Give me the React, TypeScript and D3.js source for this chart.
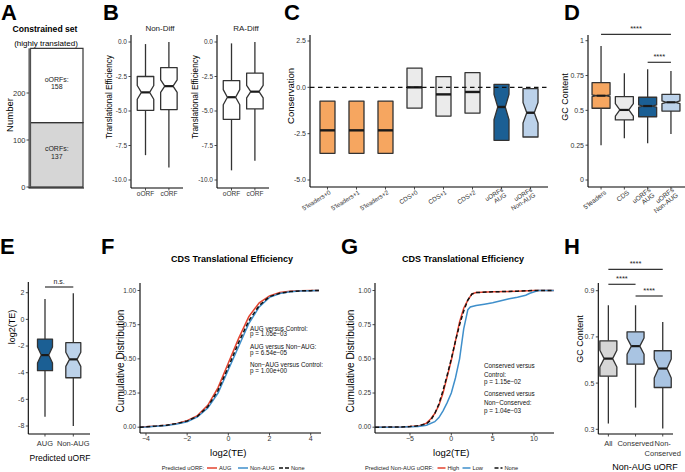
import React from "react";
import * as d3 from "d3";

const FONT = "'Liberation Sans', Arial, Helvetica, sans-serif";

// ---------------- DATA ----------------
// Panel A
const aSegments = ["cORFs", "oORFs"];
const aCounts = [137, 158];
const aTicks = [0, 100, 200];

// Panel B
const bPanels = ["Non-Diff", "RA-Diff"];
const bCategories = ["oORF", "cORF"];
const bNonDiff = [
  { lo: -8.2, q1: -4.95, med: -3.65, q3: -2.5, hi: -0.15, notch: 0.5 },
  { lo: -9.1, q1: -4.9, med: -3.2, q3: -1.85, hi: 0, notch: 0.45 },
];
const bRADiff = [
  { lo: -9.3, q1: -5.6, med: -4.0, q3: -2.8, hi: -0.1, notch: 0.55 },
  { lo: -8.6, q1: -4.85, med: -3.6, q3: -2.25, hi: 0, notch: 0.45 },
];
const bTicks = [0, -2.5, -5, -7.5, -10];
const bTickLabels = ["0.0", "-2.5", "-5.0", "-7.5", "-10.0"];

// Panel C
const cCategories = ["5'leaders+0", "5'leaders+1", "5'leaders+2", "CDS+0", "CDS+1", "CDS+2", "uORFs\nAUG", "uORFs\nNon-AUG"];
const cStats = [
  { q1: -3.56, med: -2.32, q3: -0.74, notch: 0 },
  { q1: -3.56, med: -2.32, q3: -0.74, notch: 0 },
  { q1: -3.56, med: -2.32, q3: -0.74, notch: 0 },
  { q1: -1.12, med: 0.0, q3: 1.04, notch: 0 },
  { q1: -1.55, med: -0.38, q3: 0.58, notch: 0 },
  { q1: -1.39, med: -0.25, q3: 0.79, notch: 0 },
  { q1: -2.86, med: -1.06, q3: 0.16, notch: 0.68 },
  { q1: -2.68, med: -1.37, q3: -0.07, notch: 0.55 },
];
const cTicks = [2.5, 0, -2.5, -5];
const cTickLabels = ["2.5", "0.0", "-2.5", "-5.0"];

// Panel D
const dCategories = ["5'leaders", "CDS", "uORFs\nAUG", "uORFs\nNon-AUG"];
const dStats = [
  { lo: 0.25, q1: 0.515, med: 0.605, q3: 0.699, hi: 0.962, notch: 0.006 },
  { lo: 0.3, q1: 0.431, med: 0.503, q3: 0.598, hi: 0.766, notch: 0.045 },
  { lo: 0.263, q1: 0.454, med: 0.531, q3: 0.594, hi: 0.795, notch: 0.008 },
  { lo: 0.33, q1: 0.495, med: 0.558, q3: 0.615, hi: 0.782, notch: 0.01 },
];
const dTicks = [1, 0.75, 0.5, 0.25, 0];
const dTickLabels = ["1", "0.75", "0.5", "0.25", "0"];
const dSignif = [
  { from: 0, to: 3, label: "****" },
  { from: 2, to: 3, label: "****" },
];

// Panel E
const eCategories = ["AUG", "Non-AUG"];
const eStats = [
  { lo: -7.3, q1: -3.85, med: -2.68, q3: -1.48, hi: 1.52, notch: 0.6 },
  { lo: -8.0, q1: -4.38, med: -3.0, q3: -1.75, hi: 1.95, notch: 0.53 },
];
const eTicks = [2, 0, -2, -4, -6, -8];
const eSignif = [{ from: 0, to: 1, label: "n.s." }];

// Panel F (cumulative distributions)
const fX = [-4.3, -4, -3.5, -3, -2.5, -2, -1.5, -1, -0.5, 0, 0.5, 1, 1.5, 2, 2.5, 3, 3.5, 4, 4.4];
const fAUG = [0, 0.003, 0.008, 0.015, 0.028, 0.047, 0.085, 0.16, 0.29, 0.47, 0.65, 0.81, 0.91, 0.96, 0.985, 0.994, 0.998, 1, 1];
const fNonAUG = [0, 0.002, 0.007, 0.013, 0.024, 0.04, 0.075, 0.14, 0.25, 0.42, 0.59, 0.76, 0.88, 0.95, 0.978, 0.99, 0.996, 0.999, 1];
const fNone = [0, 0.003, 0.008, 0.015, 0.027, 0.045, 0.08, 0.15, 0.27, 0.44, 0.62, 0.78, 0.89, 0.955, 0.98, 0.992, 0.997, 0.999, 1];
const fXTicks = [-4, -2, 0, 2, 4];
const fTests = ["AUG versus Control:", "p = 1.05e\u221203", "AUG versus Non\u2212AUG:", "p = 6.54e\u221205", "Non\u2212AUG versus Control:", "p = 1.00e+00"];
const fLegendTitle = "Predicted uORF:";
const fLegend = ["AUG", "Non-AUG", "None"];

// Panel G
const gHighX = [-9.2, -6, -4, -3, -2.5, -2, -1.5, -1, -0.5, 0, 0.5, 1, 1.5, 2, 2.5, 3, 5, 8, 10, 12.4];
const gHighY = [0, 0.001, 0.008, 0.03, 0.06, 0.1, 0.16, 0.25, 0.37, 0.49, 0.63, 0.77, 0.87, 0.93, 0.975, 0.985, 0.99, 0.995, 1, 1];
const gLowX = [-9.2, -6, -4, -3, -2, -1.5, -1, -0.5, 0, 0.5, 1, 1.5, 2, 2.3, 3, 4, 5, 6, 7, 8, 9, 9.5, 10.5, 12.4];
const gLowY = [0, 0.001, 0.006, 0.015, 0.04, 0.07, 0.12, 0.18, 0.25, 0.36, 0.5, 0.72, 0.86, 0.88, 0.89, 0.9, 0.91, 0.925, 0.94, 0.95, 0.965, 0.98, 1, 1];
const gNoneX = [-9.2, -6, -5, -4, -3, -2.5, -2, -1.5, -1, -0.5, 0, 0.5, 1, 1.5, 2, 2.5, 3, 5, 8, 10, 12.4];
const gNoneY = [0, 0.002, 0.005, 0.01, 0.025, 0.05, 0.1, 0.17, 0.27, 0.38, 0.5, 0.63, 0.75, 0.85, 0.93, 0.975, 0.985, 0.99, 0.995, 1, 1];
const gXTicks = [-5, 0, 5, 10];
const gTests = ["Conserved versus", "Control:", "p = 1.15e\u221202", "Conserved versus", "Non\u2212Conserved:", "p = 1.04e\u221203"];
const gLegendTitle = "Predicted Non-AUG uORF:";
const gLegend = ["High", "Low", "None"];

const cdfYTicks = [0, 0.25, 0.5, 0.75, 1];
const cdfYLabels = ["0.00", "0.25", "0.50", "0.75", "1.00"];

// Panel H
const hCategories = ["All", "Conserved", "Non-\nConserved"];
const hStats = [
  { lo: 0.325, q1: 0.53, med: 0.606, q3: 0.683, hi: 0.837, notch: 0.036 },
  { lo: 0.394, q1: 0.582, med: 0.66, q3: 0.722, hi: 0.837, notch: 0.035 },
  { lo: 0.303, q1: 0.481, med: 0.563, q3: 0.64, hi: 0.765, notch: 0.041 },
];
const hTicks = [0.9, 0.7, 0.5, 0.3];
const hSignif = [
  { from: 0, to: 2, label: "****" },
  { from: 0, to: 1, label: "****" },
  { from: 1, to: 2, label: "****" },
];

// ---------------- STYLES ----------------
const ORANGE = "#F6A660";
const LGREY = "#EBEBEB";
const MGREY = "#D6D6D6";
const DBLUE = "#1B5F94";
const LBLUE = "#BCD2EA";
const HBLUE = "#A9C4E2";
const RED = "#E3432F";
const BLUE = "#3F8FCB";
const cFills = [ORANGE, ORANGE, ORANGE, LGREY, LGREY, LGREY, DBLUE, LBLUE];
const dFills = [ORANGE, LGREY, DBLUE, LBLUE];
const eFills = [DBLUE, LBLUE];
const hFills = [MGREY, HBLUE, HBLUE];
const TICKC = "#333";

type Stat = { lo?: number; q1: number; med: number; q3: number; hi?: number; notch: number };

function Box({ cx, w, y, s, fill, medW = 2.2 }: { cx: number; w: number; y: (v: number) => number; s: Stat; fill: string; medW?: number }) {
  const x0 = cx - w / 2, x1 = cx + w / 2;
  const inset = s.notch > 0 ? w / 4 : 0;
  const nHi = Math.min(s.med + s.notch, s.q3);
  const nLo = Math.max(s.med - s.notch, s.q1);
  const d = s.notch > 0
    ? `M${x0},${y(s.q3)}H${x1}V${y(nHi)}L${x1 - inset},${y(s.med)}L${x1},${y(nLo)}V${y(s.q1)}H${x0}V${y(nLo)}L${x0 + inset},${y(s.med)}L${x0},${y(nHi)}Z`
    : `M${x0},${y(s.q3)}H${x1}V${y(s.q1)}H${x0}Z`;
  return (
    <g>
      {s.hi !== undefined && <line x1={cx} x2={cx} y1={y(s.hi)} y2={y(s.q3)} stroke="#333" strokeWidth={1.3} />}
      {s.lo !== undefined && <line x1={cx} x2={cx} y1={y(s.q1)} y2={y(s.lo)} stroke="#333" strokeWidth={1.3} />}
      <path d={d} fill={fill} stroke="#333" strokeWidth={1.3} strokeLinejoin="round" />
      <line x1={x0 + inset} x2={x1 - inset} y1={y(s.med)} y2={y(s.med)} stroke="#1a1a1a" strokeWidth={medW} />
    </g>
  );
}

function YAxis({ x, y, ticks, labels, top, bottom, fs = 7 }: any) {
  return (
    <g>
      <line x1={x} x2={x} y1={top} y2={bottom} stroke="#000" strokeWidth={1.1} />
      {ticks.map((t: number, i: number) => (
        <g key={i}>
          <line x1={x - 2.5} x2={x} y1={y(t)} y2={y(t)} stroke={TICKC} strokeWidth={0.9} />
          <text x={x - 4} y={y(t)} dy="0.35em" textAnchor="end" fontSize={fs} fill={TICKC}>{labels[i]}</text>
        </g>
      ))}
    </g>
  );
}

function XAxisLine({ y, left, right, xs }: any) {
  return (
    <g>
      <line x1={left} x2={right} y1={y} y2={y} stroke="#000" strokeWidth={1.1} />
      {xs.map((x: number, i: number) => (
        <line key={i} x1={x} x2={x} y1={y} y2={y + 2.5} stroke={TICKC} strokeWidth={0.9} />
      ))}
    </g>
  );
}

function RotLabel({ x, y, text, fs, angle = -30 }: any) {
  const lines = text.split("\n");
  const first = 0.85 - 0.5 * (lines.length - 1);
  return (
    <text transform={`translate(${x},${y}) rotate(${angle})`} textAnchor="end" fontSize={fs} fill={TICKC}>
      {lines.map((l: string, i: number) => (
        <tspan key={i} x={0} dy={i === 0 ? `${first}em` : "1em"}>{l}</tspan>
      ))}
    </text>
  );
}

function VLabel({ x, y, text, fs }: any) {
  return (
    <text transform={`translate(${x},${y}) rotate(-90)`} textAnchor="middle" dy="0.35em" fontSize={fs} fill="#000">{text}</text>
  );
}

function Letter({ x, y, t }: any) {
  return <text x={x} y={y} fontSize={22} fontWeight="bold" fill="#000">{t}</text>;
}

function PanelA() {
  const y = d3.scaleLinear().domain([0, 300]).range([187, 187 - 300 * 0.47]);
  const x = d3.scaleBand().domain(["set"]).range([30.5, 83]).padding(0);
  let acc = 0;
  const segs = aCounts.map((c, i) => {
    const y0 = acc;
    acc += c;
    return { name: aSegments[i], c, y0, y1: acc };
  });
  const fills = [MGREY, "#FFFFFF"];
  return (
    <g>
      <Letter x={1} y={20} t="A" />
      <text x={45} y={32} textAnchor="middle" fontSize={8.6} fontWeight="bold">Constrained set</text>
      <text x={46} y={46} textAnchor="middle" fontSize={8}>(highly translated)</text>
      {segs.map((s, i) => {
        const mid = (y(s.y0) + y(s.y1)) / 2;
        const cx = (x("set") as number) + x.bandwidth() / 2;
        return (
          <g key={i}>
            <rect x={x("set")} width={x.bandwidth()} y={y(s.y1)} height={y(s.y0) - y(s.y1)} fill={fills[i]} stroke="#333" strokeWidth={1.2} />
            <text x={cx} y={mid - 3.5} textAnchor="middle" fontSize={7} fill="#222">{s.name + ":"}</text>
            <text x={cx} y={mid + 3.8} textAnchor="middle" fontSize={7} fill="#222">{s.c}</text>
          </g>
        );
      })}
      <line x1={29.5} x2={29.5} y1={y(295)} y2={188} stroke="#666" strokeWidth={2.2} />
      {aTicks.map((t, i) => (
        <g key={i}>
          <line x1={26.5} x2={29} y1={y(t)} y2={y(t)} stroke={TICKC} strokeWidth={0.9} />
          <text x={25.5} y={y(t)} dy="0.35em" textAnchor="end" fontSize={7.5} fill={TICKC}>{t}</text>
        </g>
      ))}
      <line x1={28.5} x2={84} y1={188} y2={188} stroke="#000" strokeWidth={1.1} />
      <VLabel x={10} y={115} text="Number" fs={9.5} />
    </g>
  );
}

function PanelB() {
  const y = d3.scaleLinear().domain([-10, 0]).range([180, 42]);
  const axes = [131, 217];
  const data = [bNonDiff, bRADiff];
  return (
    <g>
      <Letter x={103} y={20} t="B" />
      {bPanels.map((p, k) => {
        const ax = axes[k];
        const x = d3.scalePoint().domain(bCategories).range([ax, ax + 52.4]).padding(0.62);
        return (
          <g key={p}>
            <text x={ax + 29} y={31} textAnchor="middle" fontSize={8} fill="#222">{p}</text>
            {data[k].map((s, i) => (
              <Box key={i} cx={x(bCategories[i]) as number} w={16.5} y={y} s={s} fill="#fff" />
            ))}
            <YAxis x={ax} y={y} ticks={bTicks} labels={bTickLabels} top={35} bottom={188} fs={6.5} />
            <XAxisLine y={188} left={ax} right={ax + 52} xs={bCategories.map((c) => x(c))} />
            {bCategories.map((c, i) => (
              <text key={i} x={x(c)} y={196} textAnchor="middle" fontSize={6.5} fill={TICKC}>{c}</text>
            ))}
            <VLabel x={ax - 22} y={97} text="Translational Efficiency" fs={8.2} />
          </g>
        );
      })}
    </g>
  );
}

function PanelC() {
  const y = d3.scaleLinear().domain([-5, 2.5]).range([180, 41]);
  const x = d3.scalePoint().domain(cCategories).range([310, 548]).padding(0.603);
  return (
    <g>
      <Letter x={284} y={20} t="C" />
      {cStats.map((s, i) => (
        <Box key={i} cx={x(cCategories[i]) as number} w={15} y={y} s={s} fill={cFills[i]} medW={2.4} />
      ))}
      <line x1={310} x2={548} y1={y(0)} y2={y(0)} stroke="#111" strokeWidth={1.2} strokeDasharray="4.5,3.5" />
      <YAxis x={310} y={y} ticks={cTicks} labels={cTickLabels} top={35} bottom={187} fs={7} />
      <XAxisLine y={187} left={310} right={548} xs={cCategories.map((c) => x(c))} />
      {cCategories.map((c, i) => (
        <RotLabel key={i} x={(x(c) as number) + 1} y={189} text={c} fs={6.3} angle={-32} />
      ))}
      <VLabel x={291} y={96} text="Conservation" fs={9.5} />
    </g>
  );
}

function Signif({ x, cats, list, levels, fs = 7.5 }: any) {
  return (
    <g>
      {list.map((s: any, i: number) => {
        const x1 = x(cats[s.from]);
        const x2 = x(cats[s.to]);
        return (
          <g key={i}>
            <line x1={x1} x2={x2} y1={levels[i]} y2={levels[i]} stroke="#333" strokeWidth={1.2} />
            <text x={(x1 + x2) / 2} y={levels[i] - 3.2} textAnchor="middle" fontSize={fs} fill="#222">{s.label}</text>
          </g>
        );
      })}
    </g>
  );
}

function PanelD() {
  const y = d3.scaleLinear().domain([0, 1]).range([180, 40.7]);
  const x = d3.scalePoint().domain(dCategories).range([588, 684]).padding(0.56);
  return (
    <g>
      <Letter x={564} y={20} t="D" />
      {dStats.map((s, i) => (
        <Box key={i} cx={x(dCategories[i]) as number} w={18} y={y} s={s} fill={dFills[i]} />
      ))}
      <Signif x={x} cats={dCategories} list={dSignif} levels={[34.3, 62.3]} />
      <YAxis x={588} y={y} ticks={dTicks} labels={dTickLabels} top={35} bottom={187} fs={7} />
      <XAxisLine y={187} left={588} right={685} xs={dCategories.map((c) => x(c))} />
      {dCategories.map((c, i) => (
        <RotLabel key={i} x={(x(c) as number) + 2} y={189} text={c} fs={6.6} angle={-38} />
      ))}
      <VLabel x={565} y={97} text="GC Content" fs={9} />
    </g>
  );
}

function PanelE() {
  const y = d3.scaleLinear().domain([-8, 2]).range([426, 292.7]);
  const x = d3.scalePoint().domain(eCategories).range([28.3, 90]).padding(0.59);
  return (
    <g>
      <Letter x={0} y={254} t="E" />
      {eStats.map((s, i) => (
        <Box key={i} cx={x(eCategories[i]) as number} w={15} y={y} s={s} fill={eFills[i]} />
      ))}
      <Signif x={x} cats={eCategories} list={eSignif} levels={[287]} fs={7} />
      <YAxis x={28.3} y={y} ticks={eTicks} labels={eTicks.map(String)} top={282} bottom={434} fs={7} />
      <XAxisLine y={434} left={28.3} right={90} xs={eCategories.map((c) => x(c))} />
      {eCategories.map((c, i) => (
        <text key={i} x={x(c)} y={446} textAnchor="middle" fontSize={7.5} fill={TICKC}>{c}</text>
      ))}
      <text x={60} y={461} textAnchor="middle" fontSize={8.5}>Predicted uORF</text>
      <VLabel x={12} y={327} text="log2(TE)" fs={9} />
    </g>
  );
}

function CDFPanel({ letter, letterX, axisX, right, xDomain, xTicks, titleX, ylabOffset, series, tests, testX, testYs, legendTitle, legend, legendXs, keyLen }: any) {
  const x = d3.scaleLinear().domain(xDomain).range([axisX, right]);
  const y = d3.scaleLinear().domain([0, 1]).range([427.2, 290.5]);
  const line = d3.line<[number, number]>().x((d) => x(d[0])).y((d) => y(d[1]));
  return (
    <g>
      <Letter x={letterX} y={254} t={letter} />
      <text x={titleX} y={262} textAnchor="middle" fontSize={9} fontWeight="bold">CDS Translational Efficiency</text>
      {series.map((s: any, i: number) => (
        <path key={i} d={line(s.xs.map((v: number, j: number) => [v, s.ys[j]]))!} fill="none" stroke={s.color} strokeWidth={1.5} strokeDasharray={s.dash || undefined} />
      ))}
      <YAxis x={axisX} y={y} ticks={cdfYTicks} labels={cdfYLabels} top={283} bottom={433} fs={6.5} />
      <XAxisLine y={433} left={axisX} right={right} xs={xTicks.map((t: number) => x(t))} />
      {xTicks.map((t: number, i: number) => (
        <text key={i} x={x(t)} y={441} textAnchor="middle" fontSize={7} fill={TICKC}>{String(t).replace("-", "\u2212")}</text>
      ))}
      <text x={x(0)} y={456} textAnchor="middle" fontSize={9.5}>log2(TE)</text>
      <VLabel x={axisX - ylabOffset} y={361} text="Cumulative Distribution" fs={10} />
      {tests.map((t: string, i: number) => (
        <text key={i} x={testX} y={testYs[i]} fontSize={6.3} fill="#111">{t}</text>
      ))}
      <text x={legendXs[0]} y={470} fontSize={5.7} fill="#222">{legendTitle}</text>
      {legend.map((l: string, i: number) => {
        const lx = legendXs[i + 1];
        return (
          <g key={i}>
            <line x1={lx} x2={lx + keyLen} y1={468} y2={468} stroke={series[i].color} strokeWidth={1.5} strokeDasharray={series[i].dash ? "4,2" : undefined} />
            <text x={lx + keyLen + 2} y={470} fontSize={5.7} fill="#222">{l}</text>
          </g>
        );
      })}
    </g>
  );
}

function PanelH() {
  const y = d3.scaleLinear().domain([0.3, 0.9]).range([429.3, 290.7]);
  const x = d3.scalePoint().domain(hCategories).range([598.3, 672.8]).padding(0.37);
  return (
    <g>
      <Letter x={564} y={254} t="H" />
      {hStats.map((s, i) => (
        <Box key={i} cx={x(hCategories[i]) as number} w={17} y={y} s={s} fill={hFills[i]} />
      ))}
      <Signif x={x} cats={hCategories} list={hSignif} levels={[269.3, 284.3, 296]} />
      <YAxis x={598.3} y={y} ticks={hTicks} labels={hTicks.map(String)} top={283} bottom={434} fs={7} />
      <XAxisLine y={434} left={598.3} right={673} xs={hCategories.map((c) => x(c))} />
      {hCategories.map((c, i) =>
        c.split("\n").map((l, j) => (
          <text key={i + "-" + j} x={x(c)} y={446 + j * 9.5} textAnchor="middle" fontSize={7.5} fill={TICKC}>{l}</text>
        ))
      )}
      <text x={645} y={470} textAnchor="middle" fontSize={9}>Non-AUG uORF</text>
      <VLabel x={580} y={339} text="GC Content" fs={9} />
    </g>
  );
}

export default function App() {
  const fSeries = [
    { xs: fX, ys: fAUG, color: RED },
    { xs: fX, ys: fNonAUG, color: BLUE },
    { xs: fX, ys: fNone, color: "#111", dash: "4,2.5" },
  ];
  const gSeries = [
    { xs: gHighX, ys: gHighY, color: RED },
    { xs: gLowX, ys: gLowY, color: BLUE },
    { xs: gNoneX, ys: gNoneY, color: "#111", dash: "4,2.5" },
  ];
  return (
    <svg width={685} height={472} style={{ position: "absolute", left: 0, top: 0, background: "#fff" }} fontFamily={FONT}>
      <rect width={685} height={472} fill="#fff" />
      <PanelA />
      <PanelB />
      <PanelC />
      <PanelD />
      <PanelE />
      <CDFPanel
        letter="F" letterX={101} axisX={140} right={321} xDomain={[-4.29, 4.5]} xTicks={fXTicks} titleX={232} ylabOffset={20}
        series={fSeries} tests={fTests} testX={250} testYs={[330.7, 336.3, 349, 354.6, 367.3, 372.8]}
        legendTitle={fLegendTitle} legend={fLegend} legendXs={[161.7, 207, 238, 279]} keyLen={10}
      />
      <CDFPanel
        letter="G" letterX={341} axisX={375} right={554} xDomain={[-9.23, 12.42]} xTicks={gXTicks} titleX={463} ylabOffset={25}
        series={gSeries} tests={gTests} testX={484} testYs={[367.7, 376.7, 384.3, 396, 405, 412.7]}
        legendTitle={gLegendTitle} legend={gLegend} legendXs={[365, 437.5, 462.5, 494.5]} keyLen={8}
      />
      <PanelH />
    </svg>
  );
}
